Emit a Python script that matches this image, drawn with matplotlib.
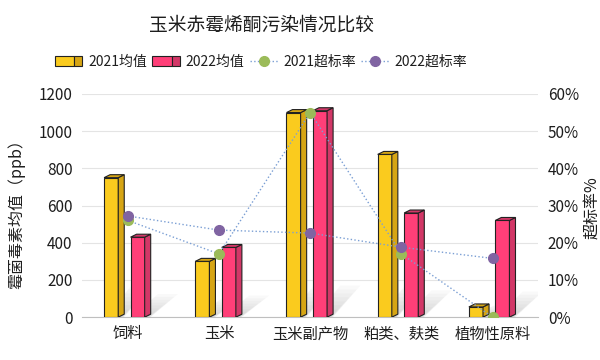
import matplotlib
matplotlib.use('Agg')
import matplotlib.pyplot as plt
import numpy as np
from matplotlib.patches import Polygon, Rectangle
from matplotlib.legend_handler import HandlerBase
from matplotlib.ticker import PercentFormatter

plt.rcParams['font.family'] = ['Noto Sans CJK SC', 'DejaVu Sans']

# ====================== DATA ======================
categories = ['饲料', '玉米', '玉米副产物', '粕类、麸类', '植物性原料']
mean_2021 = [750, 300, 1100, 875, 55]
mean_2022 = [430, 375, 1110, 560, 520]
rate_2021 = [0.26, 0.17, 0.55, 0.17, 0.0]
rate_2022 = [0.272, 0.234, 0.226, 0.188, 0.158]
series_names = ['2021均值', '2022均值', '2021超标率', '2022超标率']

# ====================== STYLE ======================
YELLOW, YELLOW_SIDE = '#FACB1E', '#D6A514'
PINK, PINK_SIDE = '#FF3F78', '#D23767'
GREEN, PURPLE = '#9BBB59', '#8064A2'
LINE_C = '#7B9FD4'
EDGE = '#222222'
TXT = '#1E1E1E'

W = 0.155           # bar front width
DX, DY = 0.066, 16  # depth of the 3D side / top


class BarHandler(HandlerBase):
    def __init__(self, front, side):
        super().__init__()
        self.front = front
        self.side = side

    def create_artists(self, legend, orig_handle, xdescent, ydescent,
                       width, height, fontsize, trans):
        fw = width * 0.7
        r1 = Rectangle((-xdescent, -ydescent), fw, height, fc=self.front,
                       ec=EDGE, lw=0.8, transform=trans)
        r2 = Rectangle((-xdescent + fw, -ydescent), width - fw, height,
                       fc=self.side, ec=EDGE, lw=0.8, transform=trans)
        return [r1, r2]


fig = plt.figure(figsize=(6, 3.6), dpi=100)
ax = fig.add_axes([0.137, 0.119, 0.76, 0.62])
x = np.arange(len(categories))


def soft_shadow(x0, x1, h):
    # blurred diagonal shadow cast up-right from the bar base
    sx, sy = 0.30, min(170, 60 + h * 0.15)
    n = 8
    for k in range(n):
        f = 1 - k / n
        pad = 0.03 * (1 - f)
        ax.add_patch(Polygon([(x0 + pad, 0), (x1 + DX - pad, 0),
                              (x1 + DX - pad + sx * f, sy * f),
                              (x0 + pad + sx * f, sy * f)],
                             closed=True, fc='#808080', ec='none',
                             alpha=0.045, zorder=1))


def bars3d(offset, vals, front, side):
    bars = ax.bar(x + offset, vals, W, align='edge', color=front,
                  edgecolor=EDGE, linewidth=0.8, zorder=3)
    for b in bars:
        x0, h = b.get_x(), b.get_height()
        x1 = x0 + b.get_width()
        soft_shadow(x0, x1, h)
        ax.add_patch(Polygon([(x1, 0), (x1 + DX, DY), (x1 + DX, h + DY), (x1, h)],
                             closed=True, fc=side, ec=EDGE, lw=0.8, zorder=3))
        ax.add_patch(Polygon([(x0, h), (x0 + DX, h + DY), (x1 + DX, h + DY), (x1, h)],
                             closed=True, fc=side, ec=EDGE, lw=0.8, zorder=3))
    return bars


b1 = bars3d(-0.26, mean_2021, YELLOW, YELLOW_SIDE)
b2 = bars3d(0.03, mean_2022, PINK, PINK_SIDE)

ax.set_xlim(-0.5, len(categories) - 0.5)
ax.set_ylim(0, 1200)
ax.set_yticks(range(0, 1201, 200))
ax.set_xticks(x)
ax.set_xticklabels(categories)
ax.tick_params(axis='both', length=0, labelsize=11, colors=TXT)
ax.tick_params(axis='y', pad=7)
ax.tick_params(axis='x', pad=6)
ax.grid(axis='y', color='#E4E4E4', linewidth=0.8, zorder=0)
ax.set_axisbelow(True)
for s in ['top', 'left', 'right']:
    ax.spines[s].set_visible(False)
ax.spines['bottom'].set_color('#BFBFBF')
ax.set_ylabel('霉菌毒素均值（ppb）', fontsize=11.5, color=TXT)
ax.yaxis.set_label_coords(-0.125, 0.48)

# ====================== RATE LINES ======================
ax2 = ax.twinx()
l1, = ax2.plot(x, rate_2021, linestyle=':', color=LINE_C, linewidth=1,
               marker='o', markersize=7, markerfacecolor=GREEN,
               markeredgecolor=GREEN, zorder=5)
l2, = ax2.plot(x, rate_2022, linestyle=':', color=LINE_C, linewidth=1,
               marker='o', markersize=7, markerfacecolor=PURPLE,
               markeredgecolor=PURPLE, zorder=5)
ax2.set_ylim(0, 0.6)
ax2.yaxis.set_major_formatter(PercentFormatter(1.0, decimals=0))
ax2.tick_params(axis='y', length=0, labelsize=11, colors=TXT, pad=7)
for s in ax2.spines.values():
    s.set_visible(False)
ax2.set_ylabel('超标率%', fontsize=11.5, color=TXT, rotation=90)
ax2.yaxis.set_label_coords(1.099, 0.49)

# ====================== TITLE / LEGEND ======================
fig.text(0.435, 0.93, '玉米赤霉烯酮污染情况比较', ha='center', va='center',
         fontsize=13.5, color=TXT)

handles = [Rectangle((0, 0), 1, 1), Rectangle((0, 0), 1, 1), l1, l2]
fig.legend(handles, series_names, loc='center', bbox_to_anchor=(0.435, 0.828),
           ncol=4, frameon=False, fontsize=10, handlelength=2.0,
           handletextpad=0.4, columnspacing=0.4, labelcolor=TXT,
           handler_map={handles[0]: BarHandler(YELLOW, YELLOW_SIDE),
                        handles[1]: BarHandler(PINK, PINK_SIDE)})

fig.savefig('out.png', dpi=100)
